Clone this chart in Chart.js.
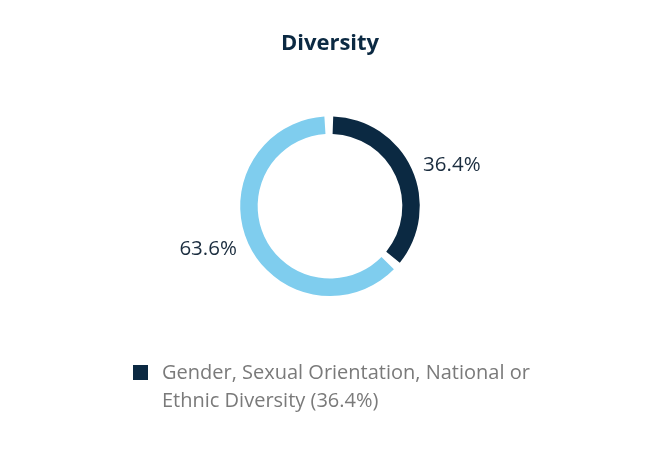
<!DOCTYPE html>
<html>
<head>
<meta charset="utf-8">
<script src="https://cdn.jsdelivr.net/npm/chart.js@4"></script>
<style>
    body { margin: 0; background: #fff; }
    #wrap { position: relative; width: 660px; height: 456px; }
    #legend {
        position: absolute; left: 133px; top: 358px; width: 440px;
        font-family: "Open Sans", Lato, sans-serif; font-size: 20px;
        color: #7a7a7a; line-height: 28px;
    }
    #legend .item { display: flex; align-items: flex-start; }
    #legend .box { flex: none; width: 15px; height: 15px; margin: 7px 14px 0 0; }
    #legend .txt { max-width: 385px; }
</style>
</head>
<body>
<div id="wrap">
    <canvas id="diversityChart" width="660" height="456"></canvas>
    <div id="legend"></div>
</div>
<script>
const categories = ['Gender, Sexual Orientation, National or Ethnic Diversity', 'Other'];
const values = [36.4, 63.6];
const colors = ['#0b2942', '#7fcdee'];
const legendShown = [true, false];

// etiquetas de porcentaje fuera del anillo
const outsideLabels = {
    id: 'outsideLabels',
    afterDatasetsDraw(chart) {
        const ctx = chart.ctx;
        const meta = chart.getDatasetMeta(0);
        ctx.save();
        ctx.font = '20.5px "Open Sans", Lato, sans-serif';
        ctx.fillStyle = '#1b2d3f';
        ctx.textBaseline = 'middle';
        meta.data.forEach(function(arc, i) {
            const mid = (arc.startAngle + arc.endAngle) / 2;
            const r = arc.outerRadius + 15;
            const x = arc.x + Math.cos(mid) * r;
            const y = arc.y + Math.sin(mid) * r;
            ctx.textAlign = Math.cos(mid) >= 0 ? 'left' : 'right';
            ctx.fillText(values[i].toFixed(1) + '%', x, y + 1);
        });
        ctx.restore();
    }
};

const ctx = document.getElementById('diversityChart').getContext('2d');
new Chart(ctx, {
    type: 'doughnut',
    data: {
        labels: categories,
        datasets: [{
            data: values,
            backgroundColor: colors,
            borderWidth: 0,
            spacing: 5,
            hoverOffset: 0
        }]
    },
    options: {
        responsive: false,
        animation: false,
        cutout: '80%',
        layout: { padding: { bottom: 160 } },
        plugins: {
            legend: { display: false },
            tooltip: { enabled: false },
            title: {
                display: true,
                text: 'Diversity',
                color: '#0b2942',
                font: { family: '"Open Sans", Lato, sans-serif', size: 22, weight: 'bold' },
                padding: { top: 31, bottom: 59 }
            }
        }
    },
    plugins: [outsideLabels]
});

const legend = document.getElementById('legend');
categories.forEach(function(c, i) {
    if (!legendShown[i]) return;
    const item = document.createElement('div');
    item.className = 'item';
    item.innerHTML = '<span class="box" style="background:' + colors[i] + '"></span><span class="txt">' +
        c + ' (' + values[i].toFixed(1) + '%)</span>';
    legend.appendChild(item);
});
</script>
</body>
</html>
